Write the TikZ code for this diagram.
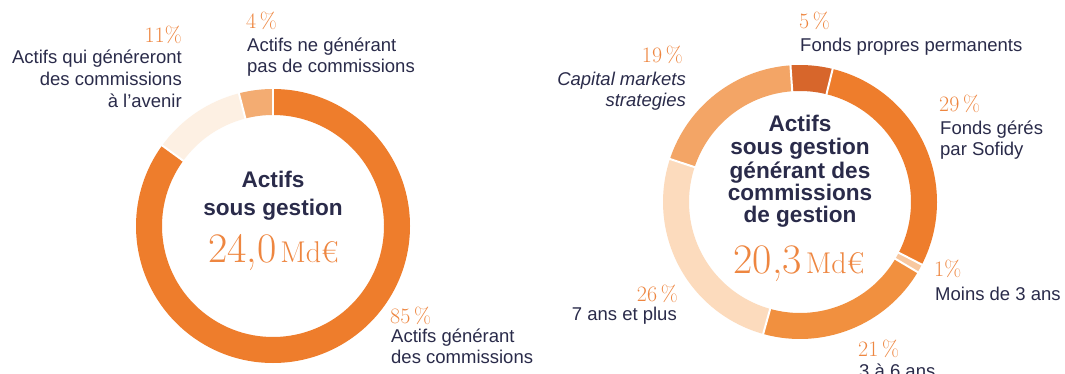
\documentclass[tikz,border=0pt]{standalone}
\usepackage{fontspec}
\setsansfont{Liberation Sans}
\usetikzlibrary{calc}
\definecolor{navy}{HTML}{2A2B4A}
\definecolor{pctor}{HTML}{EE8640}
\definecolor{ormain}{HTML}{EE7D2C}
\definecolor{palecream}{HTML}{FDF0E3}
\definecolor{lightor}{HTML}{F3AC72}
\definecolor{rdark}{HTML}{D7662B}
\definecolor{rone}{HTML}{F8C8A0}
\definecolor{rtwo}{HTML}{F1903F}
\definecolor{rsix}{HTML}{FCDBBD}
\definecolor{rnine}{HTML}{F3A566}
\newcommand{\ringseg}[4]{%
  \fill[#4] ($(#1)+(#2:137)$) arc[start angle=#2, end angle=#3, radius=137]
    -- ($(#1)+(#3:111)$) arc[start angle=#3, end angle=#2, radius=111] -- cycle;}
\newcommand{\ringsep}[2]{%
  \draw[sepline] ($(#1)+(#2:108)$) -- ($(#1)+(#2:140)$);}
\tikzset{
  lab/.style={text=navy, font=\sffamily\fontsize{18.5}{21.5}\selectfont, inner sep=0pt},
  labit/.style={lab, font=\sffamily\itshape\fontsize{18.5}{21.5}\selectfont},
  pct/.style={text=pctor, font=\rmfamily\fontsize{22}{22}\selectfont, inner sep=0pt},
  ctr/.style={text=navy, font=\sffamily\bfseries\fontsize{22.6}{27}\selectfont, inner sep=0pt, anchor=base},
  val/.style={text=pctor, inner sep=0pt, anchor=base},
  sepline/.style={white, line width=2pt},
}
\newcommand{\bignum}[1]{{\rmfamily\fontsize{42}{42}\selectfont #1}\hspace{4pt}{\rmfamily\fontsize{30}{30}\selectfont Md€}}
\begin{document}
\begin{tikzpicture}[x=1pt,y=-1pt]
\useasboundingbox (0,0) rectangle (1065,374);
\fill[white] (0,0) rectangle (1065,374);
% ---------- left donut ----------
\coordinate (L) at (273,226);
\ringseg{L}{-90}{216}{ormain}
\ringseg{L}{216}{255.6}{palecream}
\ringseg{L}{255.6}{270}{lightor}
\ringsep{L}{-90}
\ringsep{L}{216}
\ringsep{L}{255.6}
\node[ctr] (lA) at (273,187.7) {Actifs};
\node[ctr] (lB) at (273,215) {sous gestion};
\node[val] (lV) at (273.5,262) {\bignum{24,0}};
% labels left
\node[pct, anchor=base east] (p11) at (182,43) {11\%};
\node[lab, anchor=base east] (t11a) at (182,64) {Actifs qui généreront};
\node[lab, anchor=base east] (t11b) at (182,85.7) {des commissions};
\node[lab, anchor=base east] (t11c) at (182,107.3) {à l’avenir};
\node[pct, anchor=base west] (p4) at (246,29) {4\,\%};
\node[lab, anchor=base west] (t4a) at (247,52) {Actifs ne générant};
\node[lab, anchor=base west] (t4b) at (247,72.7) {pas de commissions};
\node[pct, anchor=base west] (p85) at (390,323) {85\,\%};
\node[lab, anchor=base west] (t85a) at (391,342) {Actifs générant};
\node[lab, anchor=base west] (t85b) at (391,363) {des commissions};
% ---------- right donut ----------
\coordinate (R) at (800,202);
\ringseg{R}{-94}{-76.2}{rdark}
\ringseg{R}{-76.2}{27.2}{ormain}
\ringseg{R}{27.2}{30.8}{rone}
\ringseg{R}{30.8}{105.6}{rtwo}
\ringseg{R}{105.6}{198.3}{rsix}
\ringseg{R}{198.3}{266}{rnine}
\ringsep{R}{-94}
\ringsep{R}{-76.2}
\ringsep{R}{27.2}
\ringsep{R}{30.8}
\ringsep{R}{105.6}
\ringsep{R}{198.3}
\node[ctr] (rA) at (800,131.7) {Actifs};
\node[ctr] (rB) at (800,155) {sous gestion};
\node[ctr] (rC) at (800,178.3) {générant des};
\node[ctr] (rD) at (800,200.5) {commissions};
\node[ctr] (rE) at (800,222.7) {de gestion};
\node[val] (rV) at (799,273.3) {\bignum{20,3}};
% labels right
\node[pct, anchor=base west] (p5) at (799,29) {5\,\%};
\node[lab, anchor=base west] (t5) at (800,52) {Fonds propres permanents};
\node[pct, anchor=base east] (p19) at (683,63) {19\,\%};
\node[labit, anchor=base east] (t19a) at (686,86) {Capital markets};
\node[labit, anchor=base east] (t19b) at (686,107) {strategies};
\node[pct, anchor=base west] (p29) at (939,112) {29\,\%};
\node[lab, anchor=base west] (t29a) at (940,135) {Fonds gérés};
\node[lab, anchor=base west] (t29b) at (940,156) {par Sofidy};
\node[pct, anchor=base west] (p1) at (934,276) {1\%};
\node[lab, anchor=base west] (t1) at (935,300) {Moins de 3 ans};
\node[pct, anchor=base east] (p26) at (678,301) {26\,\%};
\node[lab, anchor=base east] (t26) at (677,320) {7 ans et plus};
\node[pct, anchor=base west] (p21) at (858,356) {21\,\%};
\node[lab, anchor=base west] (t21) at (859,377) {3 à 6 ans};
\end{tikzpicture}
\end{document}
